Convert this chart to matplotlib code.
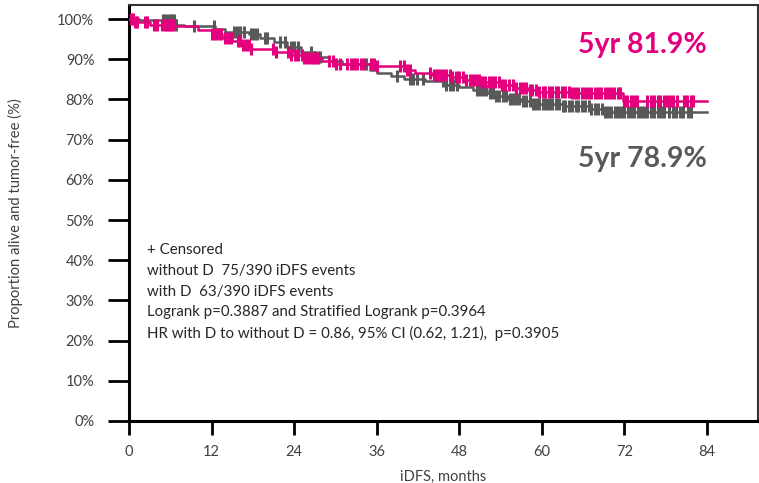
import matplotlib
matplotlib.use("Agg")
import matplotlib.pyplot as plt
import numpy as np

plt.rcParams["font.family"] = ["Lato", "DejaVu Sans"]

PINK = "#e4007c"
GREY = "#595959"

# Kaplan-Meier step points (month, % alive and tumor-free)
with_t = [0, 0.8, 3.0, 6.5, 10.0, 12.0, 13.5, 15.0, 16.5, 17.6, 21.0, 23.5, 25.5,
          28.0, 30.0, 36.0, 40.0, 41.5, 44.0, 47.0, 49.0, 51.0, 54.0, 56.0, 58.0,
          59.5, 64.0, 71.8, 84.0]
with_s = [100, 99.3, 98.6, 98.2, 97.2, 96.3, 95.4, 94.6, 93.6, 92.6, 91.9, 91.0, 90.2,
          89.6, 88.9, 88.2, 87.4, 86.6, 86.1, 85.5, 84.9, 84.3, 83.6, 82.9, 82.4,
          81.9, 81.5, 79.7, 79.7]

without_t = [0, 1.5, 6.8, 8.0, 12.5, 14.0, 17.5, 19.0, 21.0, 23.0, 25.0, 27.0, 29.0,
             31.0, 35.0, 36.0, 38.0, 40.0, 43.0, 46.0, 48.0, 50.0, 52.0, 53.0, 55.0,
             57.0, 58.5, 63.0, 67.0, 69.0, 84.0]
without_s = [100, 99.7, 98.5, 98.2, 97.6, 96.8, 96.2, 95.3, 94.2, 93.0, 91.7, 90.5, 89.6,
             88.8, 87.3, 86.6, 85.9, 85.2, 84.5, 83.6, 83.0, 82.3, 81.5, 80.8, 80.2,
             79.5, 78.9, 78.3, 77.6, 76.9, 76.9]

# censoring times (months)
with_cens = [0.3, 0.6, 0.9, 1.2, 2.3, 2.6, 3.7, 4.0, 4.8, 5.2, 5.5, 5.8, 6.1, 6.4,
             12.1, 12.5, 12.9, 13.3, 13.9, 14.4, 14.8, 15.8, 16.2, 16.6, 17.0, 17.4,
             17.8, 20.9, 21.4, 23.1, 23.6, 24.1, 24.5, 25.1, 25.5, 25.9, 26.3, 26.7,
             27.1, 27.5, 29.1, 29.6, 30.1, 30.6, 31.7, 32.2, 32.7, 33.2, 33.7, 34.1,
             35.1, 35.6, 36.0, 39.4, 39.9, 40.4, 40.8, 43.8, 44.3, 44.7, 45.2, 45.6,
             46.1, 46.6, 47.0, 47.5, 48.0, 48.5, 49.0, 49.5, 50.0, 50.4, 50.9, 51.3,
             51.8, 52.3, 52.8, 53.2, 53.7, 54.2, 54.7, 55.2, 55.8, 56.3, 56.8, 57.2,
             57.7, 58.2, 58.6, 59.1, 59.6, 60.1, 60.5, 61.0, 61.5, 62.0, 62.4, 62.9,
             63.4, 63.9, 64.3, 64.8, 65.3, 65.8, 66.2, 66.7, 67.2, 67.7, 68.1, 68.6,
             69.1, 69.6, 70.0, 70.5, 71.0, 71.4, 71.9, 72.4, 72.9, 73.4, 73.8, 75.3,
             75.8, 76.3, 76.8, 77.2, 77.7, 78.2, 78.6, 79.0, 79.6, 80.6, 81.1, 81.6,
             82.0]
without_cens = [5.0, 5.3, 5.6, 5.9, 6.2, 6.5, 6.9, 9.5, 12.4, 15.3, 15.7, 16.2, 16.7,
                17.8, 18.2, 18.6, 19.7, 20.1, 22.0, 22.6, 23.6, 24.0, 24.5, 26.5, 27.0,
                27.4, 27.8, 34.5, 39.0, 40.8, 41.3, 41.8, 42.7, 45.6, 46.1, 46.6, 47.1,
                47.6, 50.5, 51.0, 51.5, 51.9, 52.4, 52.9, 53.4, 53.8, 54.3, 54.8, 55.3,
                55.8, 56.3, 56.7, 57.2, 57.7, 58.2, 58.7, 59.1, 59.6, 60.1, 60.6, 61.0,
                61.5, 62.0, 62.5, 63.0, 63.4, 63.9, 64.4, 64.9, 65.3, 65.8, 66.3, 66.8,
                67.2, 67.7, 68.2, 68.7, 69.1, 69.6, 70.1, 70.6, 71.0, 71.5, 72.0, 72.5,
                73.0, 73.4, 73.9, 74.4, 74.9, 75.3, 75.8, 76.3, 76.8, 77.3, 77.7, 78.5,
                79.0, 79.5, 80.0, 80.5, 81.2, 81.7]

notes = [
    "+ Censored",
    "without D  75/390 iDFS events",
    "with D  63/390 iDFS events",
    "Logrank p=0.3887 and Stratified Logrank p=0.3964",
    "HR with D to without D = 0.86, 95% CI (0.62, 1.21),  p=0.3905",
]


def surv_at(times, surv, when):
    idx = np.searchsorted(times, when, side="right") - 1
    return np.asarray(surv)[idx]


fig = plt.figure(figsize=(7.59, 4.83), dpi=100)
ax = fig.add_axes([129 / 759, 1 - 421 / 483, (758 - 129) / 759, (421 - 5) / 483])

for t, s, cens, col in [(without_t, without_s, without_cens, GREY),
                        (with_t, with_s, with_cens, PINK)]:
    ax.step(t, s, where="post", color=col, lw=1.8, zorder=3)
    ax.plot(cens, surv_at(t, s, cens), ls="none", marker="|", ms=8, mew=2.2,
            color=col, zorder=3)

ax.set_xlim(0, 91.4)
ax.set_ylim(0, 103.5)
ax.set_xticks(np.arange(0, 85, 12))
ax.set_yticks(np.arange(0, 101, 10))
ax.set_yticklabels([f"{v}%" for v in range(0, 101, 10)])
ax.tick_params(axis="both", direction="out", width=2, labelsize=10.5,
               labelcolor="#404040")
ax.tick_params(axis="y", length=15, pad=10)
ax.tick_params(axis="x", length=10, pad=7)
for side in ["left", "bottom"]:
    ax.spines[side].set_linewidth(2.2)
for side in ["top", "right"]:
    ax.spines[side].set_linewidth(1.5)
    ax.spines[side].set_color("#333333")

ax.set_xlabel("iDFS, months", fontsize=10.5, color="#404040", labelpad=8)
ax.set_ylabel("Proportion alive and tumor-free (%)", fontsize=10.6, color="#404040")
ax.yaxis.set_label_coords(-0.168, 0.5)

ax.text(84, 93.5, "5yr 81.9%", color=PINK, fontsize=20.5, fontweight="bold",
        ha="right", va="center")
ax.text(84, 65.2, "5yr 78.9%", color=GREY, fontsize=20.5, fontweight="bold",
        ha="right", va="center")

for i, line in enumerate(notes):
    ax.text(2.6, 42.6 - i * 5.2, line, fontsize=10.8, color="#262626", va="center")

fig.savefig("out.png", dpi=100)
